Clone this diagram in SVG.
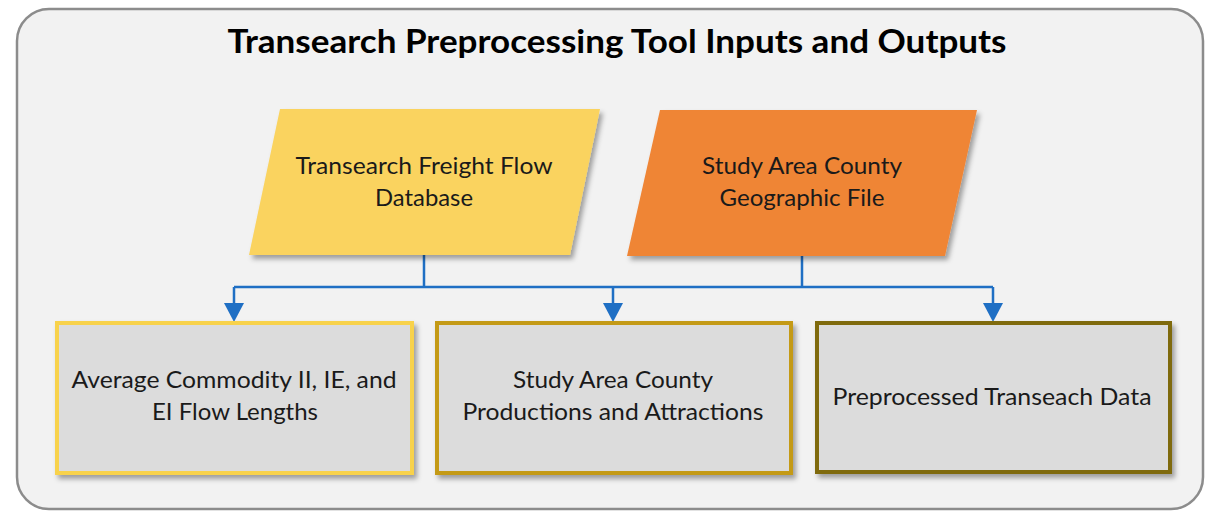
<svg xmlns="http://www.w3.org/2000/svg" width="1207" height="513" viewBox="0 0 1207 513">
  <style>
    .t { font-family: Lato, "Open Sans", "Liberation Sans", sans-serif; font-size: 23px; fill: #1a1a1a; text-anchor: middle; }
    .title { font-family: Lato, "Liberation Sans", sans-serif; font-size: 32px; font-weight: bold; fill: #000; text-anchor: middle; }
    .box { fill: #dcdcdc; stroke-width: 4; filter: url(#sh); }
    .conn { stroke: #1f6fc4; stroke-width: 2.5; fill: none; }
  </style>
  <defs>
    <filter id="sh" x="-10%" y="-10%" width="125%" height="130%">
      <feDropShadow dx="3" dy="4" stdDeviation="2.5" flood-color="#000" flood-opacity="0.35"/>
    </filter>
    <marker id="ah" markerWidth="8" markerHeight="8" refX="4" refY="4" orient="auto" markerUnits="userSpaceOnUse" viewBox="0 0 8 8">
      <path d="M0,0 L8,4 L0,8 z" fill="#1f6fc4"/>
    </marker>
  </defs>
  <rect x="17" y="9" width="1186" height="500" rx="32" ry="32" fill="#f2f2f2" stroke="#8c8c8c" stroke-width="2.5"/>
  <text class="title" x="617" y="53" textLength="779" lengthAdjust="spacingAndGlyphs">Transearch Preprocessing Tool Inputs and Outputs</text>

  <g id="connectors">
    <path class="conn" d="M424,255 V287 M802,256 V287 M234,287 H993 M234,287 V304 M613,287 V304 M993,287 V304"/>
    <path d="M224,303 L244,303 L234,322 z" fill="#1f6fc4"/>
    <path d="M603,303 L623,303 L613,322 z" fill="#1f6fc4"/>
    <path d="M983,303 L1003,303 L993,322 z" fill="#1f6fc4"/>
  </g>

  <g id="node-transearch-db">
    <polygon points="280,109 600,109 570,255 249,255" fill="#fad35f" filter="url(#sh)"/>
    <text class="t" x="424" y="174" textLength="257" lengthAdjust="spacingAndGlyphs">Transearch Freight Flow</text>
    <text class="t" x="424" y="206" textLength="98" lengthAdjust="spacingAndGlyphs">Database</text>
  </g>

  <g id="node-geo-file">
    <polygon points="660,110 977,110 945,256 627,256" fill="#ef8536" filter="url(#sh)"/>
    <text class="t" x="802" y="174" textLength="200" lengthAdjust="spacingAndGlyphs">Study Area County</text>
    <text class="t" x="802" y="206" textLength="165" lengthAdjust="spacingAndGlyphs">Geographic File</text>
  </g>

  <g id="node-flow-lengths">
    <rect class="box" x="57" y="323" width="355" height="150" stroke="#f8d24c"/>
    <text class="t" x="234" y="388" textLength="325" lengthAdjust="spacingAndGlyphs">Average Commodity II, IE, and</text>
    <text class="t" x="235" y="420" textLength="166" lengthAdjust="spacingAndGlyphs">EI Flow Lengths</text>
  </g>

  <g id="node-prod-attr">
    <rect class="box" x="437" y="323" width="354" height="150" stroke="#c49a14"/>
    <text class="t" x="613" y="388" textLength="200" lengthAdjust="spacingAndGlyphs">Study Area County</text>
    <text class="t" x="613" y="420" textLength="301" lengthAdjust="spacingAndGlyphs">Productions and Attractions</text>
  </g>

  <g id="node-preprocessed">
    <rect class="box" x="817" y="323" width="353" height="149" stroke="#7f6a0e" stroke-width="5"/>
    <text class="t" x="992" y="405" textLength="319" lengthAdjust="spacingAndGlyphs">Preprocessed Transeach Data</text>
  </g>
</svg>
